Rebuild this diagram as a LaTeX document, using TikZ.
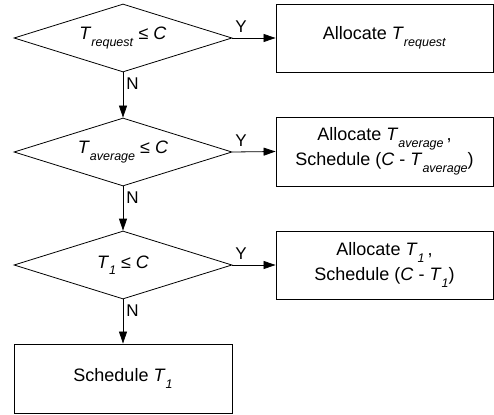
\documentclass[tikz,border=0pt]{standalone}
\usepackage{fontspec}
\setmainfont{Liberation Sans}
\usetikzlibrary{shapes.geometric,arrows.meta}
\newcommand\Tsb[1]{\textit{T}\raisebox{-6.5pt}{\fontsize{12.5}{12.5}\selectfont\textit{#1}}}
\begin{document}
\begin{tikzpicture}[x=1pt,y=-1pt,
  dec/.style={diamond, shape aspect=3.2, draw, line width=0.8pt, minimum width=218pt, minimum height=68pt, inner sep=0pt, font=\fontsize{18}{25}\selectfont},
  box/.style={rectangle, draw, line width=0.9pt, minimum width=217pt, minimum height=68pt, inner sep=0pt, align=center, font=\fontsize{18}{25}\selectfont},
  arr/.style={draw, line width=0.8pt, -{Triangle[length=12pt,width=8pt]}},
  ylab/.style={font=\fontsize{17}{17}\selectfont, inner sep=0pt, anchor=south, yshift=5pt},
  nlab/.style={font=\fontsize{17}{17}\selectfont, inner sep=0pt, anchor=north west, xshift=3pt, yshift=-5pt}]
\useasboundingbox (0,0) rectangle (494,414);
\node[dec] (d1) at (123,38) {\Tsb{request} ≤ \textit{C}};
\node[dec] (d2) at (123,152) {\Tsb{average} ≤ \textit{C}};
\node[dec] (d3) at (123,265) {\Tsb{1} ≤ \textit{C}};
\node[box] (b1) at (384.5,38) {Allocate \Tsb{request}};
\node[box, minimum height=69pt] (b2) at (384.5,151.5) {Allocate \Tsb{average}\,,\\Schedule (\textit{C} - \Tsb{average})};
\node[box] (b3) at (384.5,265) {Allocate \Tsb{1}\,,\\Schedule (\textit{C} - \Tsb{1})};
\node[box, minimum width=218pt, minimum height=69pt] (b4) at (123,378.5) {Schedule \Tsb{1}};
\draw[arr] (d1.east) -- (b1.west) node[ylab, pos=0.2] {Y};
\draw[arr] (d2.east) -- (b2.west) node[ylab, pos=0.2] {Y};
\draw[arr] (d3.east) -- (b3.west) node[ylab, pos=0.2] {Y};
\draw[arr] (d1.south) -- (d2.north) node[nlab, pos=0] {N};
\draw[arr] (d2.south) -- (d3.north) node[nlab, pos=0] {N};
\draw[arr] (d3.south) -- (b4.north) node[nlab, pos=0] {N};
\end{tikzpicture}
\end{document}
